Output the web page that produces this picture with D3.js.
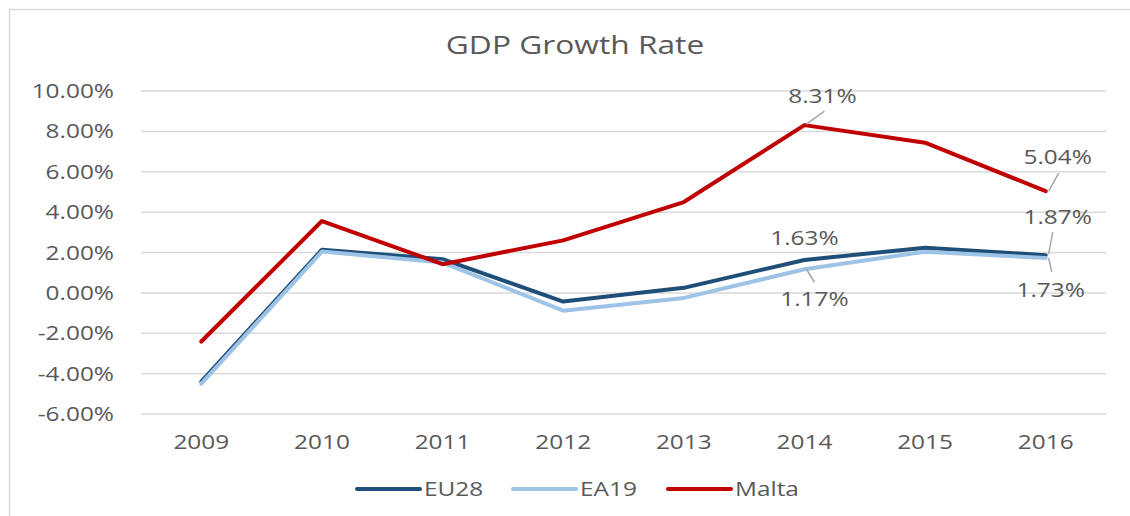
<!DOCTYPE html>
<html>
<head>
<meta charset="utf-8">
<script src="https://cdn.jsdelivr.net/npm/d3@7"></script>
<style>
  body { margin: 0; background: #fff; }
  svg text { font-family: "Open Sans", sans-serif; fill: #595959; }
</style>
</head>
<body>
<svg id="chart" width="1130" height="516"></svg>
<script>
// data
const years = ["2009", "2010", "2011", "2012", "2013", "2014", "2015", "2016"];
const eu28 = [-4.39, 2.14, 1.67, -0.43, 0.25, 1.63, 2.24, 1.87];
const ea19 = [-4.5, 2.05, 1.5, -0.88, -0.25, 1.17, 2.04, 1.73];
const malta = [-2.41, 3.56, 1.42, 2.6, 4.5, 8.31, 7.44, 5.04];
const yTicks = [-6, -4, -2, 0, 2, 4, 6, 8, 10];

const series = [
  { name: "EU28", values: eu28, color: "#1f4e79" },
  { name: "EA19", values: ea19, color: "#9dc3e6" },
  { name: "Malta", values: malta, color: "#c00000" }
];

// which points get a value label, and where the label sits
const labels = [
  { s: 2, i: 5, dx: 18, dy: -29, leader: [2, -1, 20, -14] },
  { s: 2, i: 7, dx: 12, dy: -34, leader: [3, 0, 13, -18] },
  { s: 0, i: 7, dx: 12, dy: -38, leader: [3, -1, 7, -23] },
  { s: 1, i: 7, dx: 5, dy: 32, leader: [3, 0, 6, 14] },
  { s: 0, i: 5, dx: 0, dy: -22, leader: null },
  { s: 1, i: 5, dx: 10, dy: 30, leader: [2, 0, 10, 13] }
];

const sx = 1.22; // the picture's text is stretched sideways
const svg = d3.select("#chart");

function stretchedText(g, x, y, str, size, anchor) {
  return g.append("text")
    .attr("transform", `translate(${x},${y}) scale(${sx},1)`)
    .attr("font-size", size)
    .attr("text-anchor", anchor || "middle")
    .text(str);
}

// chart frame (top and left edges show)
svg.append("path")
  .attr("d", "M9.5,516 V9.5 H1130")
  .attr("fill", "none")
  .attr("stroke", "#d9d9d9")
  .attr("stroke-width", 1.5);

const x = d3.scaleBand().domain(years).range([141, 1106]).padding(0);
const y = d3.scaleLinear().domain([-6, 10]).range([414, 91]);
const cx = d => x(d) + x.bandwidth() / 2;

// gridlines
svg.append("g").selectAll("line")
  .data(yTicks)
  .enter().append("line")
  .attr("x1", 141).attr("x2", 1106)
  .attr("y1", d => y(d)).attr("y2", d => y(d))
  .attr("stroke", "#d9d9d9")
  .attr("stroke-width", 1.5);

// y tick labels
const yAxis = svg.append("g");
yTicks.forEach(t => {
  stretchedText(yAxis, 114, y(t) + 7, t.toFixed(2) + "%", 20, "end");
});

// x tick labels
const xAxis = svg.append("g");
years.forEach(yr => {
  stretchedText(xAxis, cx(yr), 449, yr, 20);
});

// title
stretchedText(svg, 575, 54, "GDP Growth Rate", 26);

// lines
const line = d3.line()
  .x((d, i) => cx(years[i]))
  .y(d => y(d));

svg.append("g").selectAll("path")
  .data(series)
  .enter().append("path")
  .attr("d", d => line(d.values))
  .attr("fill", "none")
  .attr("stroke", d => d.color)
  .attr("stroke-width", 4)
  .attr("stroke-linejoin", "round")
  .attr("stroke-linecap", "round");

// data labels with leader lines
const lab = svg.append("g");
labels.forEach(l => {
  const v = series[l.s].values[l.i];
  const px = cx(years[l.i]);
  const py = y(v);
  if (l.leader) {
    lab.append("line")
      .attr("x1", px + l.leader[0]).attr("y1", py + l.leader[1])
      .attr("x2", px + l.leader[2]).attr("y2", py + l.leader[3])
      .attr("stroke", "#a6a6a6")
      .attr("stroke-width", 1.5);
  }
  stretchedText(lab, px + l.dx, py + l.dy + 7, v.toFixed(2) + "%", 20);
});

// legend
const legendX = [357, 513, 668];
const leg = svg.append("g");
series.forEach((s, i) => {
  leg.append("line")
    .attr("x1", legendX[i]).attr("x2", legendX[i] + 63)
    .attr("y1", 489).attr("y2", 489)
    .attr("stroke", s.color)
    .attr("stroke-width", 4)
    .attr("stroke-linecap", "round");
  stretchedText(leg, legendX[i] + 67, 496, s.name, 20, "start");
});
</script>
</body>
</html>
